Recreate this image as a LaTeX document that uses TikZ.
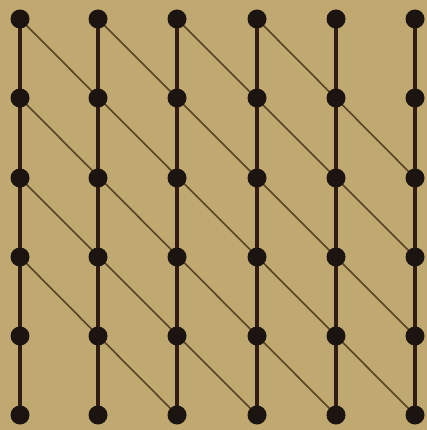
\documentclass[tikz,border=0pt]{standalone}
\definecolor{paper}{RGB}{192,169,113}
\definecolor{dotcol}{RGB}{28,20,16}
\definecolor{vcol}{RGB}{48,28,20}
\definecolor{dcol}{RGB}{88,68,34}
\begin{document}
\begin{tikzpicture}[x=1pt,y=-1pt,
  dot/.style={circle,fill=dotcol,inner sep=0pt,minimum size=19pt},
  vline/.style={line width=4.2pt,draw=vcol},
  dline/.style={line width=1.6pt,draw=dcol}]
\fill[paper] (0,0) rectangle (427,430);
\useasboundingbox (0,0) rectangle (427,430);
\foreach \i/\x in {1/20,2/98,3/177,4/257,5/336,6/415}
  \foreach \j/\y in {1/19,2/98,3/178,4/257,5/336,6/415}
    \coordinate (c-\i-\j) at (\x,\y);
% vertical bars
\foreach \i in {1,...,6} \draw[vline] (c-\i-1) -- (c-\i-6);
% diagonals
\draw[dline] (c-1-1) -- (c-6-6);
\draw[dline] (c-2-1) -- (c-6-5);
\draw[dline] (c-3-1) -- (c-6-4);
\draw[dline] (c-4-1) -- (c-6-3);
\draw[dline] (c-1-2) -- (c-5-6);
\draw[dline] (c-1-3) -- (c-4-6);
\draw[dline] (c-1-4) -- (c-3-6);
% dots
\foreach \i in {1,...,6}
  \foreach \j in {1,...,6}
    \node[dot] (p-\i-\j) at (c-\i-\j) {};
\end{tikzpicture}
\end{document}
